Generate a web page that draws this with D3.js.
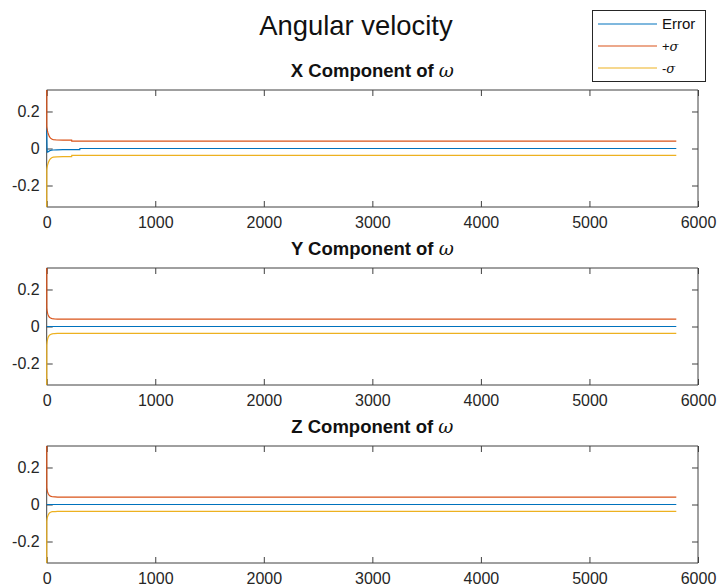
<!DOCTYPE html>
<html>
<head>
<meta charset="utf-8">
<script src="https://cdn.jsdelivr.net/npm/d3@7"></script>
<style>
  html, body { margin: 0; padding: 0; background: #fff; }
  svg { display: block; font-family: "Liberation Sans", Arial, Helvetica, sans-serif; }
</style>
</head>
<body>
<svg id="chart" width="720" height="588"></svg>
<script>
// Time samples and estimates for each component of the angular velocity
const timeX = [0, 1, 3, 6, 10, 15, 25, 35, 46, 60, 92, 150, 230, 231, 305, 306, 5800];
const errorX = [0.11, 0.06, 0.0, -0.02, -0.019, -0.017, -0.013, -0.011, -0.009, -0.008, -0.007, -0.0065, -0.006, -0.006, -0.006, 0.0, 0.0];
const plusSigmaX = [0.6, 0.12, 0.11, 0.098, 0.088, 0.078, 0.064, 0.056, 0.051, 0.048, 0.046, 0.045, 0.045, 0.040, 0.040, 0.040, 0.040];
const minusSigmaX = [-0.6, -0.115, -0.105, -0.095, -0.085, -0.076, -0.063, -0.055, -0.05, -0.047, -0.045, -0.044, -0.044, -0.037, -0.037, -0.037, -0.037];

const timeY = [0, 1, 4, 8, 12, 18, 25, 35, 50, 70, 100, 5800];
const errorY = [0, 0, 0, 0, 0, 0, 0, 0, 0, 0, 0, 0];
const plusSigmaY = [0.6, 0.1, 0.085, 0.072, 0.064, 0.056, 0.05, 0.046, 0.043, 0.041, 0.04, 0.04];
const minusSigmaY = [-0.6, -0.1, -0.083, -0.07, -0.061, -0.053, -0.047, -0.043, -0.04, -0.038, -0.037, -0.037];

const timeZ = [0, 1, 4, 8, 12, 18, 25, 35, 50, 77, 100, 5800];
const errorZ = [0, 0, 0, 0, 0, 0, 0, 0, 0, 0, 0, 0];
const plusSigmaZ = [0.6, 0.09, 0.078, 0.068, 0.061, 0.054, 0.049, 0.045, 0.042, 0.041, 0.04, 0.04];
const minusSigmaZ = [-0.6, -0.09, -0.076, -0.066, -0.059, -0.052, -0.046, -0.042, -0.039, -0.038, -0.037, -0.037];

const componentNames = ["X", "Y", "Z"];
const xTicks = [0, 1000, 2000, 3000, 4000, 5000, 6000];
const yTicks = [-0.2, 0, 0.2];
const yTickLabels = ["-0.2", "0", "0.2"];
const xDomain = [0, 6000];
const yDomain = [-0.3162, 0.3162];
const seriesNames = ["Error", "+σ", "-σ"];

const panels = [
  { name: componentNames[0], t: timeX, series: [errorX, plusSigmaX, minusSigmaX] },
  { name: componentNames[1], t: timeY, series: [errorY, plusSigmaY, minusSigmaY] },
  { name: componentNames[2], t: timeZ, series: [errorZ, plusSigmaZ, minusSigmaZ] }
];

const colors = ["#0072BD", "#D95319", "#EDB120"];
const axisColor = "#404040";
const textColor = "#262626";

const svg = d3.select("#chart");
const left = 46.7, right = 698, panelH = 117;
const panelTops = [90, 268, 446];
const tickLen = 6;

// Figure title
svg.append("text")
  .attr("x", 356).attr("y", 35)
  .attr("text-anchor", "middle")
  .attr("font-size", 27.4)
  .attr("fill", "#111")
  .text("Angular velocity");

const x = d3.scaleLinear().domain(xDomain).range([left, right]);

panels.forEach((p, i) => {
  const top = panelTops[i], bottom = top + panelH;
  const y = d3.scaleLinear().domain(yDomain).range([bottom, top]);
  const g = svg.append("g");

  const clipId = "clip" + i;
  svg.append("clipPath").attr("id", clipId)
    .append("rect").attr("x", left - 1).attr("y", top)
    .attr("width", right - left + 1).attr("height", panelH);

  // axes: bottom & left labelled, top & right ticks only, ticks pointing inward
  const axB = d3.axisBottom(x).tickValues(xTicks).tickSize(-tickLen).tickPadding(10).tickFormat(d3.format("d"));
  const axT = d3.axisTop(x).tickValues(xTicks).tickSize(-tickLen).tickFormat("");
  const axL = d3.axisLeft(y).tickValues(yTicks).tickSize(-tickLen).tickPadding(7)
    .tickFormat((d, k) => yTickLabels[k]);
  const axR = d3.axisRight(y).tickValues(yTicks).tickSize(-tickLen).tickFormat("");

  const style = sel => {
    sel.selectAll("path.domain").attr("stroke", axisColor).attr("stroke-width", 1);
    sel.selectAll(".tick line").attr("stroke", axisColor).attr("stroke-width", 1);
    sel.selectAll(".tick text").attr("fill", textColor).attr("font-size", 16)
      .attr("font-family", "Liberation Sans, Arial, sans-serif");
  };
  g.append("g").attr("transform", `translate(0,${bottom})`).call(axB).call(style)
    .call(s => s.selectAll("path.domain").attr("d", `M${left},0H${right}`));
  g.append("g").attr("transform", `translate(0,${top})`).call(axT).call(style)
    .call(s => s.selectAll("path.domain").attr("d", `M${left},0H${right}`));
  g.append("g").attr("transform", `translate(${left},0)`).call(axL).call(style)
    .call(s => s.selectAll("path.domain").attr("d", `M0,${top}V${bottom}`));
  g.append("g").attr("transform", `translate(${right},0)`).call(axR).call(style)
    .call(s => s.selectAll("path.domain").attr("d", `M0,${top}V${bottom}`));

  // data lines, drawn over the axes box
  const line = d3.line().x((d, k) => x(p.t[k])).y(d => y(d));
  p.series.forEach((vals, s) => {
    g.append("path")
      .datum(vals)
      .attr("clip-path", `url(#${clipId})`)
      .attr("fill", "none")
      .attr("stroke", colors[s])
      .attr("stroke-width", 1.2)
      .attr("d", line);
  });

  // panel title
  const title = g.append("text")
    .attr("x", (left + right) / 2).attr("y", top - 13)
    .attr("text-anchor", "middle")
    .attr("font-size", 18.5)
    .attr("font-weight", "bold")
    .attr("fill", "#111");
  title.append("tspan").text(`${p.name} Component of `);
  title.append("tspan").attr("font-style", "italic").attr("font-weight", "normal")
    .attr("font-family", "DejaVu Serif, serif").text("ω");
});

// legend
const lg = svg.append("g");
lg.append("rect").attr("x", 592.5).attr("y", 10.5).attr("width", 113).attr("height", 71)
  .attr("fill", "#fff").attr("stroke", textColor).attr("stroke-width", 1);
const rowY = [24, 46, 68];
seriesNames.forEach((name, s) => {
  lg.append("line").attr("x1", 598).attr("x2", 657).attr("y1", rowY[s]).attr("y2", rowY[s])
    .attr("stroke", colors[s]).attr("stroke-width", 1.2);
  const t = lg.append("text").attr("x", 662).attr("y", rowY[s] + 5)
    .attr("font-size", s === 0 ? 15 : 13).attr("fill", "#111");
  if (s === 0) {
    t.text(name);
  } else {
    t.append("tspan").text(name[0]);
    t.append("tspan").attr("font-style", "italic").attr("font-family", "DejaVu Serif, serif").text(name.slice(1));
  }
});
</script>
</body>
</html>
